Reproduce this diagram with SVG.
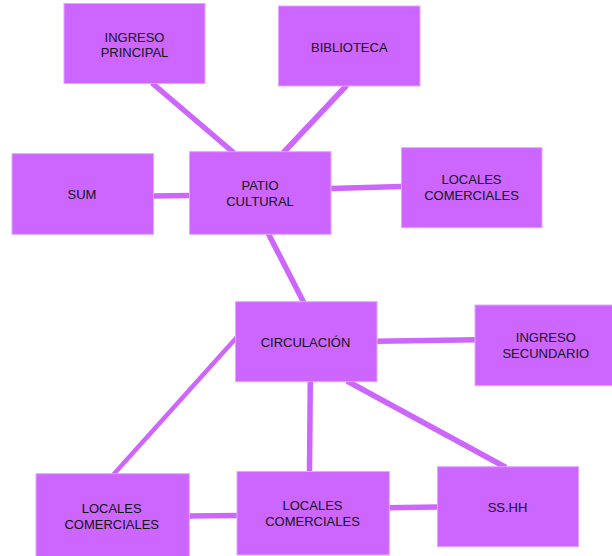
<svg xmlns="http://www.w3.org/2000/svg" width="612" height="556" viewBox="0 0 612 556">
<style>
.box{fill:#cc66ff;stroke:#e2a6ff;stroke-width:1}
.lbl{font-family:"Liberation Sans",Arial,sans-serif;font-size:13px;fill:#141414;text-anchor:middle}
.con{stroke:#cc66ff;stroke-width:5.5;fill:none;stroke-linecap:butt}
</style>
<rect width="612" height="556" fill="#ffffff"/>
<g id="connectors">
<line class="con" x1="152" y1="83" x2="234" y2="153"/>
<line class="con" x1="347" y1="85" x2="283" y2="153"/>
<line class="con" x1="152" y1="196" x2="191" y2="195.5"/>
<line class="con" x1="330" y1="188.5" x2="402" y2="186.5"/>
<line class="con" x1="268" y1="233" x2="304" y2="303"/>
<line class="con" x1="376" y1="341.3" x2="476" y2="339.8"/>
<line class="con" style="stroke-width:4.5" x1="237" y1="337" x2="113" y2="475"/>
<line class="con" x1="310.3" y1="381" x2="309.5" y2="472"/>
<line class="con" x1="347" y1="381" x2="506" y2="467.5"/>
<line class="con" x1="188" y1="516" x2="238" y2="515.5"/>
<line class="con" x1="388" y1="507.8" x2="438" y2="507"/>
</g>
<g id="ingreso-principal">
<rect class="box" x="64" y="3.5" width="141" height="80"/>
<text class="lbl" x="134.5" y="41.7">INGRESO</text>
<text class="lbl" x="134.5" y="57.3">PRINCIPAL</text>
</g>
<g id="biblioteca">
<rect class="box" x="278.5" y="6" width="141.5" height="80"/>
<text class="lbl" x="349.3" y="51.5">BIBLIOTECA</text>
</g>
<g id="sum">
<rect class="box" x="12" y="153.7" width="141.5" height="80.6"/>
<text class="lbl" x="82" y="199">SUM</text>
</g>
<g id="patio-cultural">
<rect class="box" x="189.5" y="151.7" width="141.5" height="82.6"/>
<text class="lbl" x="260" y="190">PATIO</text>
<text class="lbl" x="260" y="206">CULTURAL</text>
</g>
<g id="locales-comerciales-1">
<rect class="box" x="401.5" y="147.7" width="140.5" height="80"/>
<text class="lbl" x="471.5" y="184">LOCALES</text>
<text class="lbl" x="471.5" y="200">COMERCIALES</text>
</g>
<g id="circulacion">
<rect class="box" x="235.5" y="301.7" width="141.5" height="80"/>
<text class="lbl" x="305.5" y="347.3">CIRCULACIÓN</text>
</g>
<g id="ingreso-secundario">
<rect class="box" x="475" y="305" width="140" height="80.7"/>
<text class="lbl" x="545.8" y="342.3">INGRESO</text>
<text class="lbl" x="545.8" y="358">SECUNDARIO</text>
</g>
<g id="locales-comerciales-2">
<rect class="box" x="36" y="473.7" width="153.3" height="85"/>
<text class="lbl" x="111.7" y="513.3">LOCALES</text>
<text class="lbl" x="111.7" y="529.3">COMERCIALES</text>
</g>
<g id="locales-comerciales-3">
<rect class="box" x="237" y="471.5" width="152.3" height="83.5"/>
<text class="lbl" x="312.5" y="510.4">LOCALES</text>
<text class="lbl" x="312.5" y="525.8">COMERCIALES</text>
</g>
<g id="ss-hh">
<rect class="box" x="437.5" y="466.7" width="141" height="80"/>
<text class="lbl" x="507.5" y="511.7">SS.HH</text>
</g>
</svg>
